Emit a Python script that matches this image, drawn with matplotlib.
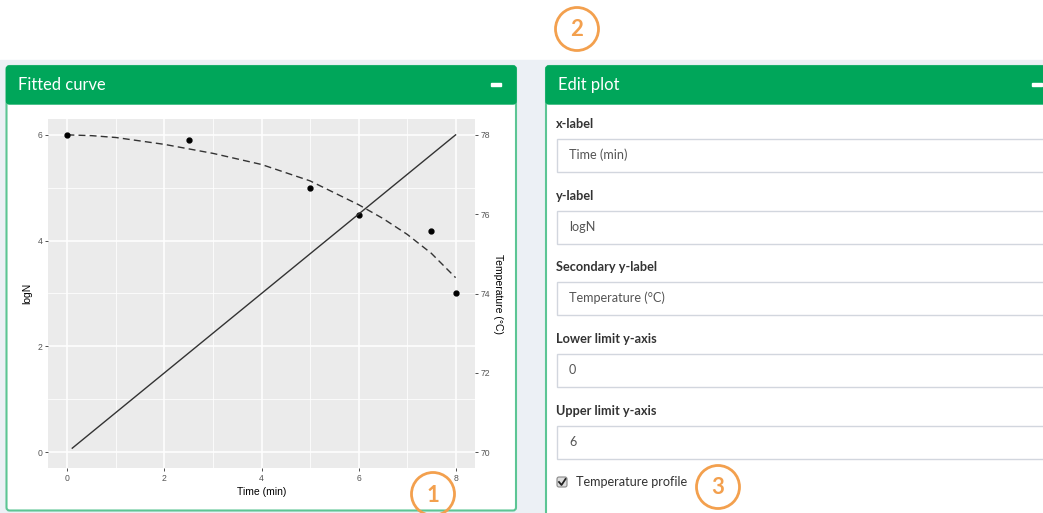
import matplotlib
matplotlib.use("Agg")
import matplotlib.pyplot as plt
from matplotlib.patches import Rectangle, FancyBboxPatch, Circle

# ---- data ----
obs_time = [0, 2.5, 5, 6, 7.5, 8]
obs_logN = [6.0, 5.9, 5.0, 4.48, 4.18, 3.0]

fit_time = [0, 0.5, 1, 2, 3, 4, 5, 6, 6.5, 7, 7.5, 8]
fit_logN = [6.0, 5.985, 5.95, 5.82, 5.65, 5.44, 5.13, 4.68, 4.42, 4.12, 3.76, 3.30]

temp_time = [0.1, 8]
temp_C = [70.1, 78]

x_ticks = [0, 2, 4, 6, 8]
y_ticks = [0, 2, 4, 6]
temp_ticks = [70, 72, 74, 76, 78]

form_fields = ["x-label", "y-label", "Secondary y-label",
               "Lower limit y-axis", "Upper limit y-axis"]
form_values = ["Time (min)", "logN", "Temperature (°C)", "0", "6"]

W, H = 1043, 513
GREEN = "#00a65a"
BORDER = "#5cc594"
PAGE = "#ecf0f5"
ORANGE = "#f3a04e"
UI_FONT = "Lato"
PLOT_FONT = "Liberation Sans"

fig = plt.figure(figsize=(W / 100, H / 100), dpi=100)
fig.patch.set_facecolor("white")

bg = fig.add_axes([0, 0, 1, 1])
bg.set_xlim(0, W)
bg.set_ylim(H, 0)
bg.axis("off")

# page body
bg.add_patch(Rectangle((0, 60), W, H - 60, color=PAGE, zorder=0))


def box(x0, y0, x1, y1, title, minus_x):
    bg.add_patch(FancyBboxPatch((x0, y0), x1 - x0, y1 - y0,
                                boxstyle="round,pad=0,rounding_size=3",
                                facecolor="white", edgecolor=BORDER, lw=1.5, zorder=1))
    bg.add_patch(FancyBboxPatch((x0, y0), x1 - x0, 38,
                                boxstyle="round,pad=0,rounding_size=3",
                                facecolor=GREEN, edgecolor=GREEN, lw=1, zorder=2))
    bg.text(x0 + 11.5, y0 + 19, title, color="white", fontsize=11.9,
            family=UI_FONT, va="center", ha="left", zorder=3)
    bg.add_patch(Rectangle((minus_x - 5, y0 + 17), 10, 3, color="white", zorder=3))


box(6.5, 66, 516, 510.5, "Fitted curve", 496)
box(546, 66, 1100, 560, "Edit plot", 1037)

# form fields
label_y = [124, 196, 267, 339, 411]
for lab, val, ly in zip(form_fields, form_values, label_y):
    bg.text(556, ly, lab, fontsize=9.2, fontweight="bold", family=UI_FONT,
            color="#333333", va="center", ha="left", zorder=3)
    bg.add_patch(Rectangle((556.5, ly + 14.5), 600, 33, facecolor="white",
                           edgecolor="#d2d6de", lw=1, zorder=3))
    bg.text(569, ly + 31, val, fontsize=9.1, family=UI_FONT,
            color="#555555", va="center", ha="left", zorder=4)

# checkbox
bg.add_patch(FancyBboxPatch((557, 477), 10, 10, boxstyle="round,pad=0,rounding_size=2",
                            facecolor="#dddddd", edgecolor="#888888", lw=0.8, zorder=3))
bg.plot([559, 561.5, 565.5], [482, 485, 479], color="#222222", lw=1.3, zorder=4)
bg.text(576, 482, "Temperature profile", fontsize=9.1, family=UI_FONT,
        color="#333333", va="center", ha="left", zorder=3)

# numbered callouts
for num, (cx, cy) in zip(["1", "2", "3"], [(433, 494), (577, 29), (718, 487)]):
    bg.add_patch(Circle((cx, cy), 21.5, facecolor="none", edgecolor=ORANGE,
                        lw=2, zorder=5))
    bg.text(cx, cy + 1, num, fontsize=16, fontweight="bold", family=UI_FONT,
            color=ORANGE, ha="center", va="center", zorder=6)

# ---- ggplot-style chart ----
pl, pr, pt, pb = 48, 475, 119, 468
ax = fig.add_axes([pl / W, (H - pb) / H, (pr - pl) / W, (pb - pt) / H])
ax.set_zorder(2)
ax.set_facecolor("#ebebeb")
for s in ax.spines.values():
    s.set_visible(False)

ax.set_xlim(-0.4, 8.4)
ax.set_ylim(-0.3, 6.3)
ax.set_xticks(x_ticks)
ax.set_yticks(y_ticks)
ax.set_xticks([1, 3, 5, 7], minor=True)
ax.set_yticks([1, 3, 5], minor=True)
ax.grid(which="major", color="white", lw=1.1)
ax.grid(which="minor", color="white", lw=0.55)
ax.set_axisbelow(True)
ax.tick_params(which="minor", length=0)
ax.tick_params(which="major", length=2.5, width=0.6, color="#333333",
               labelsize=6.2, labelcolor="#555555", pad=1.5)
for lbl in ax.get_xticklabels() + ax.get_yticklabels():
    lbl.set_family(PLOT_FONT)

ax.plot(fit_time, fit_logN, color="#333333", lw=1.0, dashes=(5, 3), zorder=3)
ax.plot(obs_time, obs_logN, "o", color="black", ms=3.5, zorder=4)
ax.set_xlabel("Time (min)", fontsize=7.5, family=PLOT_FONT, labelpad=3)
ax.set_ylabel("logN", fontsize=7.5, family=PLOT_FONT, labelpad=4)

ax2 = ax.twinx()
ax2.set_ylim(69.6, 78.4)
ax2.set_yticks(temp_ticks)
ax2.patch.set_visible(False)
for s in ax2.spines.values():
    s.set_visible(False)
ax2.tick_params(length=2.5, width=0.6, color="#333333", labelsize=6.2,
                labelcolor="#555555", pad=1.5)
for lbl in ax2.get_yticklabels():
    lbl.set_family(PLOT_FONT)
ax2.plot(temp_time, temp_C, color="#333333", lw=1.0, zorder=3)
ax2.set_ylabel("Temperature (°C)", fontsize=7.5, family=PLOT_FONT,
               rotation=-90, labelpad=9)

fig.savefig("out.png", dpi=100)
